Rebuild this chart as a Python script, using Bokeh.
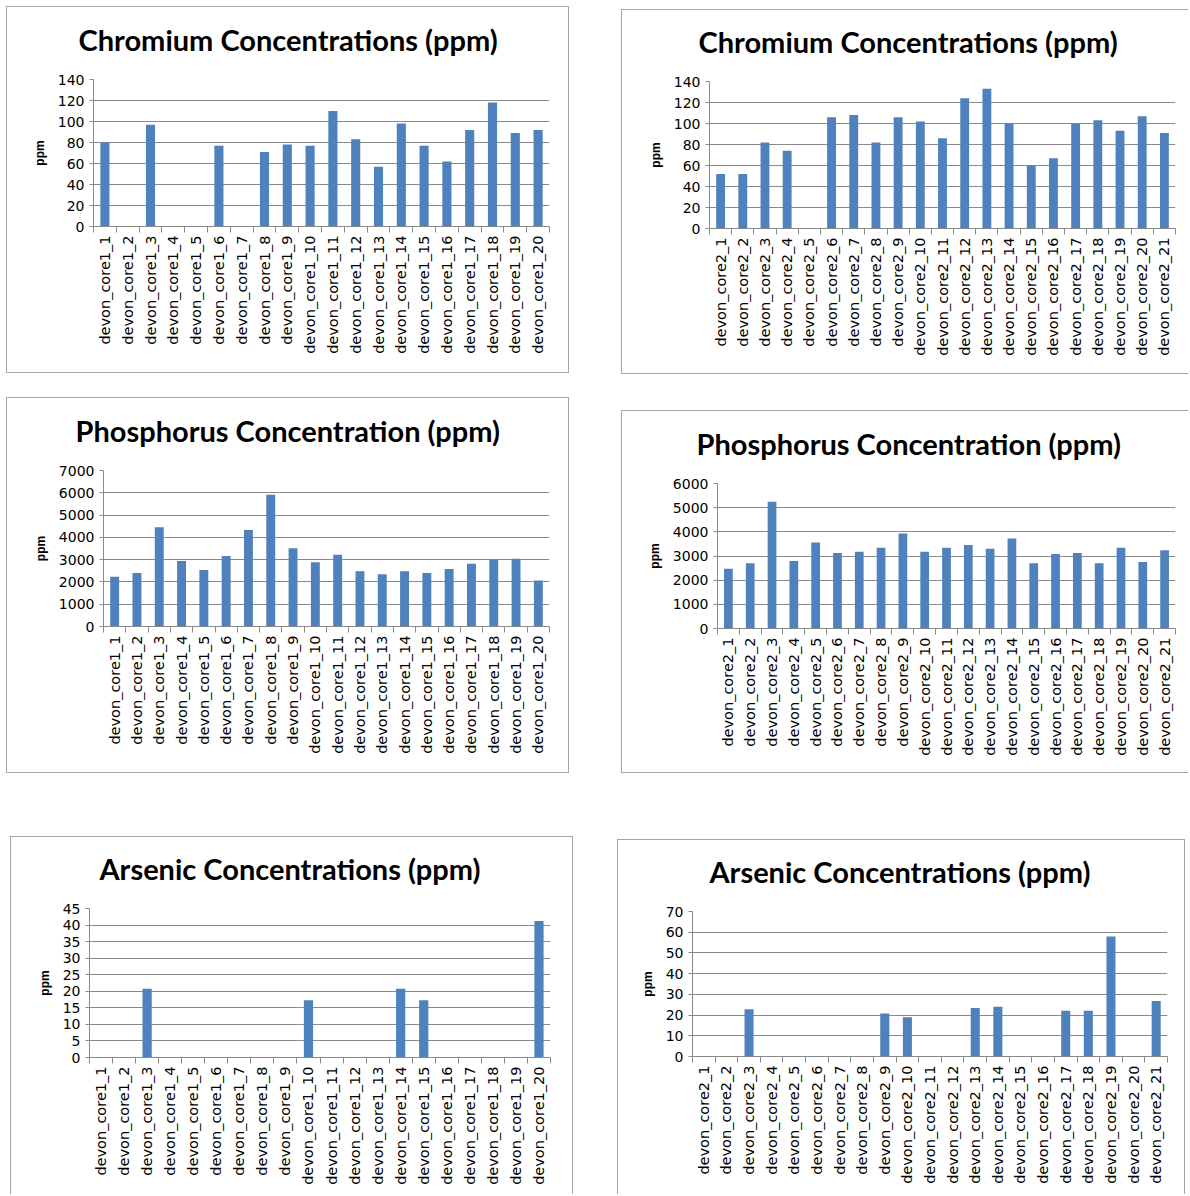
import math
from bokeh.plotting import figure
from bokeh.models import Range1d, LinearAxis, FixedTicker, Spacer, Grid, Title
from bokeh.layouts import row, column
from bokeh.embed import file_html
from bokeh.resources import INLINE

# ---------------- data ----------------
cats_core1 = ["devon_core1_1", "devon_core1_2", "devon_core1_3", "devon_core1_4", "devon_core1_5",
              "devon_core1_6", "devon_core1_7", "devon_core1_8", "devon_core1_9", "devon_core1_10",
              "devon_core1_11", "devon_core1_12", "devon_core1_13", "devon_core1_14", "devon_core1_15",
              "devon_core1_16", "devon_core1_17", "devon_core1_18", "devon_core1_19", "devon_core1_20"]
cats_core2 = ["devon_core2_1", "devon_core2_2", "devon_core2_3", "devon_core2_4", "devon_core2_5",
              "devon_core2_6", "devon_core2_7", "devon_core2_8", "devon_core2_9", "devon_core2_10",
              "devon_core2_11", "devon_core2_12", "devon_core2_13", "devon_core2_14", "devon_core2_15",
              "devon_core2_16", "devon_core2_17", "devon_core2_18", "devon_core2_19", "devon_core2_20",
              "devon_core2_21"]

chromium_core1 = [80, None, 97, None, None, 77, None, 71, 78, 77,
                  110, 83, 57, 98, 77, 62, 92, 118, 89, 92]
chromium_core2 = [52, 52, 82, 74, None, 106, 108, 82, 106, 102,
                  86, 124, 133, 100, 60, 67, 100, 103, 93, 107, 91]
phosphorus_core1 = [2230, 2400, 4450, 2940, 2530, 3160, 4330, 5910, 3510, 2880,
                    3220, 2475, 2345, 2475, 2400, 2580, 2820, 3010, 3040, 2060]
phosphorus_core2 = [2470, 2695, 5250, 2790, 3560, 3125, 3180, 3345, 3935, 3180,
                    3345, 3460, 3295, 3725, 2695, 3085, 3125, 2695, 3345, 2750, 3235]
arsenic_core1 = [None, None, 20.8, None, None, None, None, None, None, 17.3,
                 None, None, None, 20.8, 17.3, None, None, None, None, 41.2]
arsenic_core2 = [None, None, 22.8, None, None, None, None, None, 20.8, 19.0,
                 None, None, 23.4, 24.0, None, None, 22.1, 22.1, 57.9, None, 26.8]

titles = ["Chromium Concentrations (ppm)", "Phosphorus Concentration (ppm)",
          "Arsenic Concentrations (ppm)"]
y_label = "ppm"

BAR = "#4f81bd"
GRAY = "#8a8a8a"
BOX = "#a6a6a6"


def panel(title, cats, vals, ymax, ystep, w, h, ml, mr, mt, mb, t_off, shadow):
    n = len(cats)
    xs = [i + 1 for i, v in enumerate(vals) if v is not None]
    tops = [v for v in vals if v is not None]
    p = figure(width=w, height=h, output_backend="svg", toolbar_location=None,
               x_range=Range1d(0.5, n + 0.5), y_range=Range1d(0, ymax),
               x_axis_type=None, y_axis_type=None, title=None,
               min_border_left=ml, min_border_right=mr,
               min_border_top=mt, min_border_bottom=mb,
               background_fill_color=None, border_fill_color=None,
               outline_line_color=None)
    p.styles = {"box-shadow": shadow}

    # blank spacer title next to the frame, then the real title above it
    p.add_layout(Title(text=" ", text_font_size="1px", standoff=20), "above")
    p.add_layout(Title(text=title, align="left", offset=t_off, standoff=0,
                       text_font="Lato", text_font_style="bold", text_font_size="29px",
                       text_color="#000000"), "above")

    yticker = FixedTicker(ticks=list(range(0, ymax + 1, ystep)))
    yax = LinearAxis(ticker=yticker, axis_label=y_label, axis_label_standoff=8,
                     axis_label_text_font="Liberation Sans", axis_label_text_font_style="bold",
                     axis_label_text_font_size="12px", axis_label_text_color="#000000",
                     major_label_text_font="DejaVu Sans", major_label_text_font_size="14px",
                     major_label_text_color="#000000", major_label_standoff=5,
                     major_tick_out=4, major_tick_in=0, minor_tick_out=0, minor_tick_in=0,
                     axis_line_color=GRAY, major_tick_line_color=GRAY,
                     minor_tick_line_color=None)
    p.add_layout(yax, "left")
    p.add_layout(Grid(dimension=1, ticker=yticker, grid_line_color=GRAY))

    edges = [i + 0.5 for i in range(n + 1)]
    tick_ax = LinearAxis(ticker=FixedTicker(ticks=edges),
                         major_label_overrides={e: "" for e in edges},
                         major_label_text_font_size="1px", major_label_standoff=0,
                         major_tick_out=6, major_tick_in=0, minor_tick_out=0, minor_tick_in=0,
                         axis_line_color=GRAY, major_tick_line_color=GRAY,
                         minor_tick_line_color=None)
    p.add_layout(tick_ax, "below")
    lab_ax = LinearAxis(ticker=FixedTicker(ticks=list(range(1, n + 1))),
                        major_label_overrides={i + 1: c for i, c in enumerate(cats)},
                        major_label_orientation=math.pi / 2,
                        major_label_text_font="DejaVu Sans", major_label_text_font_size="14.5px",
                        major_label_text_color="#000000", major_label_standoff=3,
                        major_tick_out=0, major_tick_in=0, minor_tick_out=0, minor_tick_in=0,
                        axis_line_color=None, major_tick_line_color=None,
                        minor_tick_line_color=None)
    p.add_layout(lab_ax, "below")

    p.vbar(x=xs, top=tops, bottom=0, width=0.4, fill_color=BAR, line_color=None)
    return p


full = f"inset 0 0 0 1px {BOX}"
no_right = f"inset 1px 1px 0 {BOX}, inset 0 -1px 0 {BOX}"
no_bottom = f"inset 1px 1px 0 {BOX}, inset -1px 0 0 {BOX}"

tl = panel(titles[0], cats_core1, chromium_core1, 140, 20, 563, 367, 87, 20, 73, 147, -15, full)
tr = panel(titles[0], cats_core2, chromium_core2, 140, 20, 567, 365, 88, 13, 72, 146, -11, no_right)
ml = panel(titles[1], cats_core1, phosphorus_core1, 7000, 1000, 563, 376, 97, 20, 73, 147, -28, full)
mr = panel(titles[1], cats_core2, phosphorus_core2, 6000, 1000, 567, 363, 96, 13, 73, 145, -21, no_right)
bl = panel(titles[2], cats_core1, arsenic_core1, 45, 5, 563, 358, 79, 23, 72, 137, 10, no_bottom)
br = panel(titles[2], cats_core2, arsenic_core2, 70, 10, 568, 355, 75, 18, 72, 138, 17, no_bottom)

left = column(Spacer(height=6), row(Spacer(width=6), tl), Spacer(height=24),
              row(Spacer(width=6), ml), Spacer(height=63), row(Spacer(width=10), bl))
right = column(Spacer(height=9), row(Spacer(width=4), tr), Spacer(height=36),
               row(Spacer(width=4), mr), Spacer(height=66), br)
page = row(left, Spacer(width=44), right)

open("out.html", "w").write(file_html(page, INLINE))
